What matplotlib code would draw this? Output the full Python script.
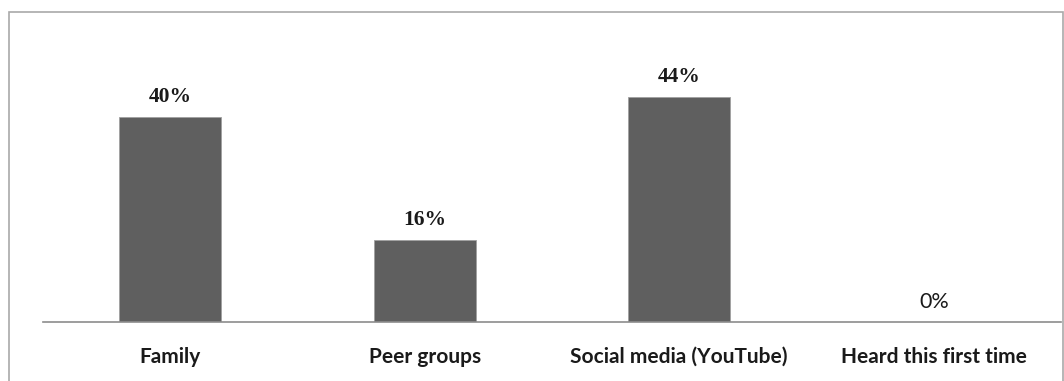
import matplotlib
matplotlib.use("Agg")
from matplotlib import pyplot as plt
from matplotlib.patches import Rectangle

# survey answers: where respondents first heard about it
categories = ["Family", "Peer groups", "Social media (YouTube)", "Heard this first time"]
shares = [40, 16, 44, 0]

W, H = 1064, 381
fig = plt.figure(figsize=(W / 100, H / 100), dpi=100)
fig.patch.set_facecolor("white")

# outer chart border
fig.add_artist(Rectangle((9 / W, -0.01), (W - 10) / W, (H - 12) / H + 0.01,
                         transform=fig.transFigure, fill=False,
                         edgecolor="#a9a9a9", linewidth=1.2))

ax = fig.add_axes([43 / W, 59 / H, (1061 - 43) / W, 256 / H])
x = range(len(categories))
bars = ax.bar(x, shares, width=0.4, color="#5f5f5f", edgecolor="#a0a0a0", linewidth=0.6)

for b, v in zip(bars, shares):
    ax.text(b.get_x() + b.get_width() / 2, v + 3.9, f"{v}%",
            ha="center", va="center", fontsize=15.5,
            family="Liberation Serif" if v else "Lato",
            fontweight="bold" if v else "normal", color="#1a1a1a")

ax.set_xlim(-0.5, len(categories) - 0.5)
ax.set_ylim(0, 50)
ax.set_xticks(list(x))
ax.set_xticklabels(categories, family="Lato", fontweight="bold", fontsize=15, color="#1a1a1a")
ax.tick_params(axis="x", length=0, pad=18)
ax.set_yticks([])
for side in ["top", "right", "left"]:
    ax.spines[side].set_visible(False)
ax.spines["bottom"].set_color("#8c8c8c")
ax.spines["bottom"].set_linewidth(1.2)

fig.savefig("out.png", dpi=100)
